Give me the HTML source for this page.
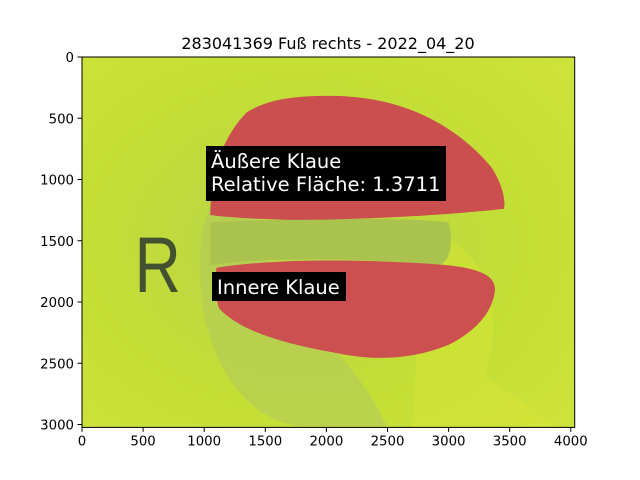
<!DOCTYPE html>
<html><head><meta charset="utf-8"><style>
body{margin:0;background:#fff;}
svg{display:block;font-family:"DejaVu Sans","Liberation Sans",sans-serif;}
</style></head><body>
<svg width="640" height="480" viewBox="0 0 640 480">
<text x="328" y="49" font-size="16" text-anchor="middle">283041369 Fuß rechts - 2022_04_20</text>
<defs>
<clipPath id="ax"><rect x="0" y="0" width="4032" height="3024"/></clipPath>
<radialGradient id="bg" cx="0.45" cy="0.5" r="0.7">
<stop offset="0" stop-color="#b9d24a"/><stop offset="0.6" stop-color="#c3de36"/><stop offset="1" stop-color="#cde23a"/></radialGradient>
</defs>
<g id="img">
<g transform="translate(82,57) scale(0.1222,0.1225)" clip-path="url(#ax)">
<rect x="0" y="0" width="4032" height="3024" fill="url(#bg)"/>
<path d="M1300 1000 C1000 1100 900 1500 1000 2100 C1100 2600 1400 3024 1900 3024 L2500 3024 C2300 2600 2000 2300 1600 1900 Z" fill="#b2c95a" opacity="0.6"/>
<path d="M2800 1400 C3200 1500 3500 1900 3300 2600 L3900 3024 L2700 3024 Z" fill="#d6e634" opacity="0.5"/>
<path d="M1050 1350 C1400 1330 2600 1300 3000 1350 C3050 1550 3000 1700 2900 1700 C2500 1650 1500 1620 1050 1700 Z" fill="#aac24e"/>
<text x="430" y="1920" font-size="640" fill="#2e3a30" opacity="0.85" font-family="Liberation Sans,sans-serif" transform="translate(0,0)" textLength="380" lengthAdjust="spacingAndGlyphs">R</text>
<path d="M1050 1290 C1050 950 1150 650 1350 450 C1550 330 1800 310 2150 320 C2700 350 3100 600 3350 900 C3450 1050 3470 1200 3450 1240 C3000 1290 2300 1330 1700 1330 C1400 1320 1200 1310 1050 1290 Z" fill="#cc4f4f"/>
<path d="M1100 1720 C1600 1640 2400 1650 3000 1700 C3250 1730 3380 1780 3380 1900 C3360 2100 3200 2250 3000 2350 C2700 2470 2400 2480 2100 2420 C1700 2350 1300 2250 1120 2050 C1090 1950 1090 1800 1100 1720 Z" fill="#cd5050"/>
</g>
</g>
<rect x="82" y="57" width="492.7" height="370.4" fill="none" stroke="#000" stroke-width="1"/>
<rect x="206" y="146" width="240" height="55" fill="#000"/>
<text x="211" y="168" font-size="19.5" fill="#fff">Äußere Klaue</text>
<text x="211" y="191" font-size="19.5" fill="#fff">Relative Fläche: 1.3711</text>
<rect x="212" y="272" width="134" height="29" fill="#000"/>
<text x="217" y="294" font-size="19.5" fill="#fff">Innere Klaue</text>
<g id="xt"></g>
<g id="yt"></g>
</svg>
<script>
const xTicks=[0,500,1000,1500,2000,2500,3000,3500,4000];
const yTicks=[0,500,1000,1500,2000,2500,3000];
const X0=82,Y0=57,SX=0.1222,SY=0.1225,BOT=427.4;
const ns="http://www.w3.org/2000/svg";
const xg=document.getElementById('xt'),yg=document.getElementById('yt');
xTicks.forEach(v=>{const x=X0+v*SX;
const l=document.createElementNS(ns,'line');l.setAttribute('x1',x);l.setAttribute('x2',x);l.setAttribute('y1',BOT);l.setAttribute('y2',BOT+4.5);l.setAttribute('stroke','#000');


xg.appendChild(l);
const t=document.createElementNS(ns,'text');t.setAttribute('x',x);t.setAttribute('y',BOT+18);t.setAttribute('font-size','13.3');t.setAttribute('text-anchor','middle');t.textContent=v;


xg.appendChild(t);});
yTicks.forEach(v=>{const y=Y0+v*SY;
const l=document.createElementNS(ns,'line');l.setAttribute('x1',X0-4.5);l.setAttribute('x2',X0);l.setAttribute('y1',y);l.setAttribute('y2',y);l.setAttribute('stroke','#000');


yg.appendChild(l);
const t=document.createElementNS(ns,'text');t.setAttribute('x',X0-8);t.setAttribute('y',y+5);t.setAttribute('font-size','13.3');t.setAttribute('text-anchor','end');t.textContent=v;


yg.appendChild(t);});
</script>
</body></html>
